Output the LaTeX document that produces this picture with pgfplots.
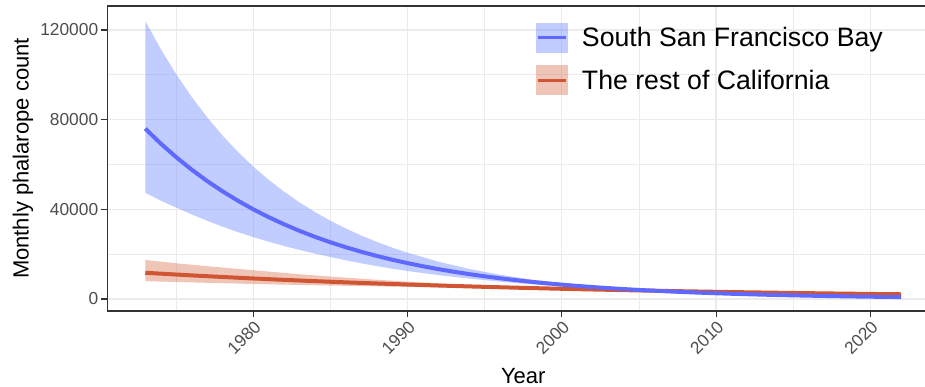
\documentclass[border=0pt]{standalone}
\usepackage{fontspec}
\setmainfont{Liberation Sans}
\usepackage{pgfplots}
\pgfplotsset{compat=1.18}
\usepgfplotslibrary{fillbetween}
\definecolor{lineblue}{RGB}{95,105,255}
\definecolor{bandblue}{RGB}{100,130,255}
\definecolor{linered}{RGB}{208,85,50}
\definecolor{bandred}{RGB}{210,90,50}
\definecolor{gridc}{RGB}{235,235,235}
\definecolor{tickc}{RGB}{77,77,77}
\definecolor{borderc}{RGB}{51,51,51}
\begin{document}
\begin{tikzpicture}
\begin{axis}[
  name=ax,
  scale only axis,
  width=623.625pt, height=228.75pt,
  xmin=1970.55, xmax=2024.45,
  ymin=-5353, ymax=130709,
  xtick={1980,1990,2000,2010,2020},
  minor xtick={1975,1985,1995,2005,2015},
  ytick={0,40000,80000,120000},
  minor ytick={20000,60000,100000},
  grid=both,
  major grid style={draw=gridc, line width=1pt},
  minor grid style={draw=gridc, line width=0.55pt},
  tick align=outside,
  major tick length=4.8pt,
  minor tick length=0pt,
  tick style={draw=borderc, line width=0.8pt},
  xtick pos=bottom, ytick pos=left,
  axis line style={draw=borderc, line width=0.8pt},
  scaled y ticks=false,
  /pgf/number format/assume math mode=true,
  /pgf/number format/1000 sep={},
  yticklabel style={/pgf/number format/fixed, font=\fontsize{13}{15}\selectfont, text=tickc, inner sep=2pt},
  xticklabel style={font=\fontsize{13}{15}\selectfont, text=tickc, rotate=45, anchor=north east, inner sep=1pt},
  ylabel={Monthly phalarope count},
  ylabel style={font=\fontsize{16.5}{18}\selectfont, at={([xshift=-63.4pt]rel axis cs:0,0.5)}, anchor=center},
  xlabel={Year},
  xlabel style={font=\fontsize{16.5}{18}\selectfont, at={(rel axis cs:0.5,0)}, anchor=base, yshift=-54.5pt},
  legend style={at={(rel axis cs:0.5153,0.9452)}, anchor=north west, draw=none, fill=none,
    inner sep=0pt, outer sep=0pt, font=\fontsize{20}{22}\selectfont,
    row sep=9.5pt, column sep=10.5pt, nodes={inner sep=0pt}},
  legend cell align=left,
]
% blue band
\addplot[draw=none, name path=bu, forget plot] coordinates {
(1973,124000)(1974,111530)(1975,100310)(1976,90220)(1977,81140)(1978,72980)(1979,65640)(1980,59040)
(1981,53150)(1982,47860)(1983,43080)(1984,38790)(1985,34920)(1986,31440)(1987,28310)(1988,25480)(1989,22940)(1990,20660)
(1992,16650)(1994,13410)(1996,10810)(1998,8707)(2000,7015)(2002,5918)(2004,4993)(2006,4213)(2008,3554)(2010,2999)
(2012,2530)(2014,2135)(2016,1801)(2018,1520)(2020,1282)(2022,1082)};
\addplot[draw=none, name path=bl, forget plot] coordinates {
(1973,47350)(1974,43890)(1975,40810)(1976,37760)(1977,34920)(1978,32300)(1979,29860)(1980,27610)
(1981,25550)(1982,23650)(1983,21880)(1984,20240)(1985,18720)(1986,17260)(1987,15920)(1988,14680)(1989,13530)(1990,12480)
(1992,10660)(1994,9094)(1996,7735)(1998,6559)(2000,5568)(2002,4682)(2004,3943)(2006,3284)(2008,2732)(2010,2278)
(2012,1885)(2014,1558)(2016,1288)(2018,1058)(2020,862)(2022,708)};
\addplot[fill=bandblue, fill opacity=0.4, draw=none, forget plot] fill between[of=bu and bl];
% red band
\addplot[draw=none, name path=ru, forget plot] coordinates {
(1973,17430)(1975,15930)(1977,14650)(1980,12820)(1983,11050)(1985,9994)(1988,8583)(1990,7745)
(1993,6623)(1995,5960)(1998,5219)(2000,4821)(2005,4009)(2010,3397)(2015,2906)(2019,2573)(2022,2359)};
\addplot[draw=none, name path=rl, forget plot] coordinates {
(1973,7956)(1975,7582)(1977,7222)(1980,6685)(1983,6266)(1985,5997)(1988,5641)(1990,5421)
(1993,5084)(1995,4876)(1998,4512)(2000,4275)(2005,3627)(2010,3013)(2015,2476)(2019,2117)(2022,1874)};
\addplot[fill=bandred, fill opacity=0.35, draw=none, forget plot] fill between[of=ru and rl];
% red line
\addplot[linered, line width=3pt, forget plot] coordinates {
(1973,11700)(1974,11298)(1975,10909)(1976,10534)(1977,10172)(1978,9822)(1979,9484)(1980,9158)(1981,8843)(1982,8539)
(1983,8245)(1984,7962)(1985,7688)(1986,7424)(1987,7168)(1988,6922)(1989,6684)(1990,6454)(1991,6232)(1992,6017)
(1993,5810)(1994,5610)(1995,5418)(1996,5231)(1997,5051)(1998,4878)(1999,4710)(2000,4548)(2001,4392)(2002,4241)
(2003,4095)(2004,3954)(2005,3818)(2006,3687)(2007,3560)(2008,3437)(2009,3319)(2010,3205)(2011,3095)(2012,2989)
(2013,2886)(2014,2787)(2015,2691)(2016,2598)(2017,2509)(2018,2422)(2019,2339)(2020,2259)(2021,2181)(2022,2106)};
% blue line
\addplot[lineblue, line width=3pt, forget plot] coordinates {
(1973,76000)(1974,69340)(1975,63270)(1976,57730)(1977,52670)(1978,48060)(1979,43850)(1980,40010)(1981,36500)(1982,33310)
(1983,30390)(1984,27730)(1985,25300)(1986,23080)(1987,21060)(1988,19220)(1989,17530)(1990,16000)(1991,14600)(1992,13320)
(1993,12150)(1994,11090)(1995,10120)(1996,9230)(1997,8420)(1998,7680)(1999,7010)(2000,6400)(2001,5840)(2002,5320)
(2003,4860)(2004,4430)(2005,4040)(2006,3690)(2007,3370)(2008,3070)(2009,2800)(2010,2560)(2011,2330)(2012,2130)
(2013,1940)(2014,1770)(2015,1620)(2016,1480)(2017,1350)(2018,1230)(2019,1120)(2020,1020)(2021,935)(2022,853)};
\addlegendimage{legend image code/.code={
  \fill[bandblue, fill opacity=0.4, draw=none] (0pt,-11.25pt) rectangle (24pt,11.25pt);
  \draw[lineblue, line width=2.6pt] (1.5pt,0pt) -- (22.5pt,0pt);}}
\addlegendentry{South San Francisco Bay}
\addlegendimage{legend image code/.code={
  \fill[bandred, fill opacity=0.35, draw=none] (0pt,-11.25pt) rectangle (24pt,11.25pt);
  \draw[linered, line width=2.6pt] (1.5pt,0pt) -- (22.5pt,0pt);}}
\addlegendentry{The rest of California}
\end{axis}
\pgfresetboundingbox
\path[use as bounding box] ([shift={(-80.625pt,-57pt)}]ax.south west) rectangle ([shift={(-10.5pt,4.5pt)}]ax.north east);
\end{tikzpicture}
\end{document}
